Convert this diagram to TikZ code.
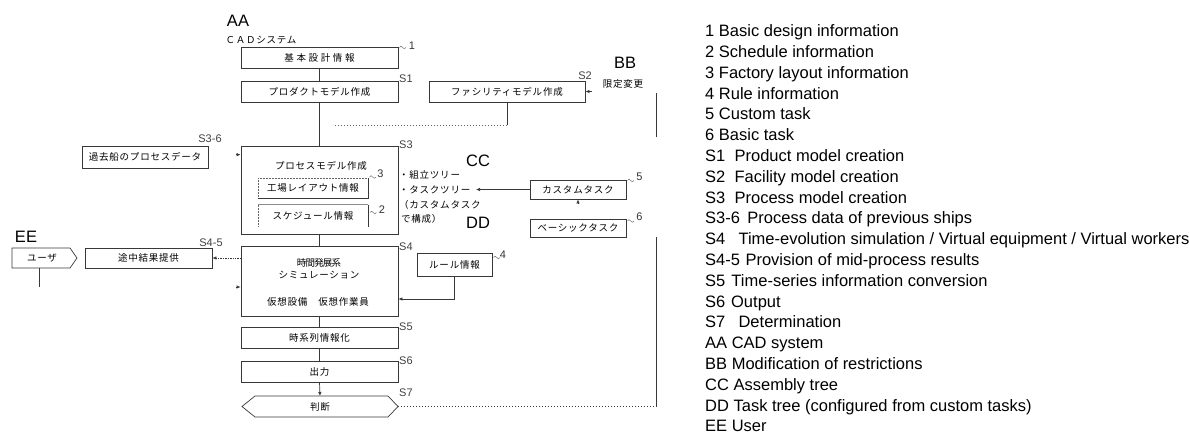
\documentclass[tikz,border=0pt]{standalone}
\usepackage{fontspec}
\setmainfont{Liberation Sans}
\newfontfamily\jp[LetterSpace=8]{Noto Sans CJK JP}
\newcommand\jpfont{\jp\fontsize{9.5}{11}\selectfont}
\newcommand\mytilde[1]{\draw[tl] (#1) sin ++(1.6,-1.3) cos ++(1.6,1.3) sin ++(1.6,1.3) cos ++(1.6,-1.3);}
\usetikzlibrary{arrows.meta,calc}
\begin{document}
\begin{tikzpicture}[x=1pt,y=-1pt,
 ln/.style={draw=black!78, line width=0.7pt},
 tl/.style={draw=black!60, line width=0.45pt},
 bx/.style={ln, inner sep=0, minimum height=21, font=\jpfont},
 jt/.style={font=\jpfont, inner sep=0},
 sl/.style={font=\fontsize{11}{12}\selectfont, text=black!75, inner sep=0},
 num/.style={font=\fontsize{11}{12}\selectfont, text=black!80, inner sep=0},
 big/.style={font=\fontsize{16.5}{18}\selectfont, inner sep=0},
 leg/.style={font=\fontsize{16.5}{18}\selectfont, anchor=base west, inner sep=0},
 arr/.style={-{Latex[length=4pt,width=3.5pt]}},
 dots/.style={draw=black!60, line width=0.6pt, dash pattern=on 0.8pt off 2.2pt},
]
\useasboundingbox (0,0) rectangle (1189,437);

% ---- main column
\node[big] (aa) at (238,21) {AA};
\node[jt] (cad) at (261,40.5) {ＣＡＤシステム};
\node[bx, minimum width=157] (b1) at (319.5,57.5) {\addfontfeature{LetterSpace=28}基本設計情報};
\node[bx, minimum width=157] (s1) at (319.5,91.5) {プロダクトモデル作成};
\node[bx, minimum width=156] (s2) at (507,91.5) {ファシリティモデル作成};
\node[big] (bb) at (625,63) {BB};
\node[jt] (bbj) at (623,84) {限定変更};

\node[bx, minimum width=126, minimum height=22] (s36) at (145,157) {過去船のプロセスデータ};
\node[bx, minimum width=157, minimum height=88] (s3) at (319.5,190) {};
\node[jt] (s3t) at (321,165.5) {プロセスモデル作成};
\node[jt, minimum width=110, minimum height=20] (f3) at (313,188) {工場レイアウト情報};
\node[jt, minimum width=110, minimum height=22] (f2) at (313,216) {\raisebox{-2pt}{スケジュール情報}};
\draw[draw=black!60, line width=0.5pt, densely dotted] (f3.south west) -- (f3.north west) -- (f3.north east);
\draw[ln] (f3.south west) -- (f3.south east) -- (f3.north east);
\draw[draw=black!45, line width=1.1pt] (f2.north west) -- (f2.north east);
\draw[draw=black!60, line width=0.5pt, densely dotted] (f2.north west) -- (f2.south west);
\draw[ln] (f2.north east) -- (f2.south east);

\node[big] (cc) at (478,161) {CC};
\node[jt, anchor=west] (tr1) at (399,175) {・組立ツリー};
\node[jt, anchor=west] (tr2) at (399,190) {・タスクツリー};
\node[jt, anchor=west] (tr3) at (399,205) {（カスタムタスク};
\node[jt, anchor=west] (tr4) at (401,218.5) {で構成）};
\node[big] (dd) at (478,223) {DD};
\node[bx, minimum width=96, minimum height=19] (ct) at (578,189.5) {カスタムタスク};
\node[bx, minimum width=96, minimum height=18] (bt) at (578,228) {ベーシックタスク};

\node[big] (ee) at (26,237) {EE};
\node[jt] (user) at (42,258) {ユーザ};
\draw[ln] (12,248) -- (70,248) -- (77,258) -- (70,268) -- (12,268) -- cycle;
\coordinate (ub) at (39,268);
\coordinate (ue) at (39,287);
\node[bx, minimum width=127, minimum height=20] (s45) at (148.5,258) {途中結果提供};

\node[bx, minimum width=157, minimum height=70] (s4) at (319.5,281) {};
\node[jt] (s4a) at (319,263) {\addfontfeature{LetterSpace=-8}時間発展系};
\node[jt] (s4b) at (319,275) {シミュレーション};
\node[jt] (s4c) at (318,301.5) {仮想設備　仮想作業員};
\node[bx, minimum width=75, minimum height=23] (rule) at (454.5,264.5) {ルール情報};

\node[bx, minimum width=157] (s5) at (319.5,337.5) {時系列情報化};
\node[bx, minimum width=157] (s6) at (319.5,371.5) {出力};
\node[jt] (jd) at (320,406.5) {判断};
\draw[ln] (242,406.5) -- (255,396) -- (388,396) -- (398,406.5) -- (388,417) -- (255,417) -- cycle;
\coordinate (jtop) at (320,396);
\coordinate (jright) at (398,406.5);

% ---- step labels
\node[sl, anchor=west] (l1) at (399,79) {S1};
\node[sl] (l2) at (585,76) {S2};
\node[sl, anchor=west] (l3) at (399,145) {S3};
\node[sl] (l36) at (210,139) {S3-6};
\node[sl, anchor=west] (l4) at (399,246.5) {S4};
\node[sl] (l45) at (211,242.5) {S4-5};
\node[sl, anchor=west] (l5) at (399,326.5) {S5};
\node[sl, anchor=west] (l6) at (399,360.5) {S6};
\node[sl, anchor=west] (l7) at (399,393) {S7};

% ---- reference numbers
\node[num] (n1) at (412,46) {1};
\mytilde{399.5,47.5}
\node[num] (n3) at (380.5,174) {3};
\mytilde{369.5,177}
\node[num] (n2) at (382,210) {2};
\mytilde{370,212.5}
\node[num] (n4) at (503,255) {4};
\mytilde{493.5,257.5}
\node[num] (n5) at (639.5,177) {5};
\mytilde{627.5,180.5}
\node[num] (n6) at (639.5,217) {6};
\mytilde{627.5,221}

% ---- connectors
\draw[ln] (b1.south) -- (s1.north);
\draw[ln] (s1.south) -- (s3.north);
\draw[ln] (s2.south) -- (s2.south |- 0,125) coordinate (fj);
\draw[dots] (fj) -- ($(s1.south |- fj)+(14,0)$);
\draw[ln] (s3.south) -- (s4.north);
\draw[ln] (s4.south) -- (s5.north);
\draw[ln] (s5.south) -- (s6.north);
\draw[ln, arr] (s6.south) -- (jtop);
\coordinate (fbc) at (656,406.5);
\coordinate (fb1) at (656,237);
\coordinate (fb2) at (656,137);
\coordinate (fb3) at (656,93);
\draw[ln, dash pattern=on 1.2pt off 1.8pt] (jright) -- (fbc);
\draw[ln] (fbc) -- (fb1);
\draw[ln] (fb2) -- (fb3);
\draw[ln, arr] ($(s2.east)+(7,0)$) -- (s2.east);
\draw[ln, arr] ($(s3.north west)+(-5,9)$) -- ($(s3.north west)+(0,9)$);
\draw[ln, arr] ($(s4.west)+(-5,6)$) -- ($(s4.west)+(0,6)$);
\draw[ln, densely dotted, arr] (s4.west |- s45.east) -- (s45.east);
\draw[ln, arr] (rule.south) |- (s4.east |- 0,299);
\coordinate (trend) at (476,189.5);
\draw[ln, arr] (ct.west) -- (trend);
\draw[ln, arr] ($(ct.south)+(0,5)$) -- (ct.south);
\draw[ln] (ub) -- (ue);

% ---- legend
\foreach \t [count=\i from 0] in {
 1 Basic design information,
 2 Schedule information,
 3 Factory layout information,
 4 Rule information,
 5 Custom task,
 6 Basic task,
 S1\hspace{0.56em}Product model creation,
 S2\hspace{0.56em}Facility model creation,
 S3\hspace{0.56em}Process model creation,
 S3-6\hspace{0.45em}Process data of previous ships,
 S4\hspace{0.8em}Time-evolution simulation / Virtual equipment / Virtual workers,
 S4-5\hspace{0.33em}Provision of mid-process results,
 S5\hspace{0.37em}Time-series information conversion,
 S6\hspace{0.35em}Output,
 S7\hspace{0.8em}Determination,
 AA CAD system,
 BB Modification of restrictions,
 CC Assembly tree,
 DD Task tree (configured from custom tasks),
 EE User}
 \node[leg] (lg\i) at (705,36.7+20.8*\i) {\t};
\end{tikzpicture}
\end{document}
